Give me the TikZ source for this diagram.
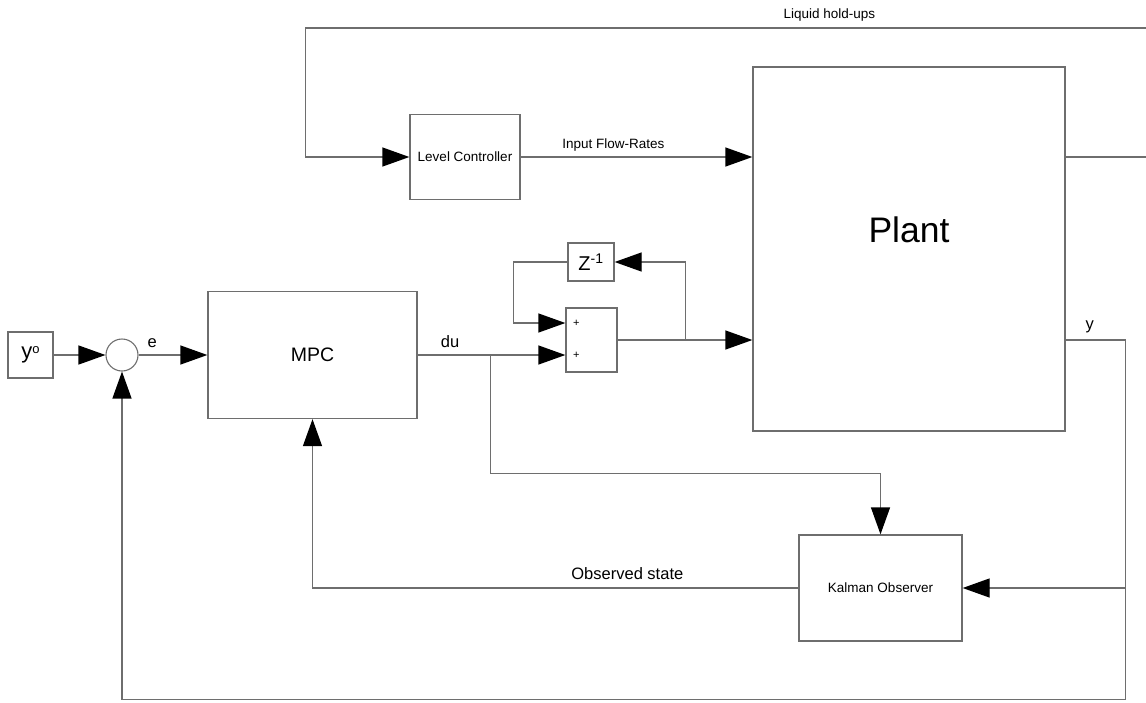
\documentclass[tikz,border=0pt]{standalone}
\usepackage{fontspec}
\setmainfont{Liberation Sans}
\usetikzlibrary{arrows.meta, positioning, calc}
\definecolor{wireGray}{HTML}{6E6E6E}

\begin{document}
\begin{tikzpicture}[x=1pt, y=-1pt,
    block/.style={draw=wireGray, line width=1.3pt, fill=white, inner sep=0pt},
    wire/.style={draw=wireGray, line width=1.3pt},
    sig/.style={wire, -{Triangle[length=27pt, width=19pt, color=black]}},
    lbl/.style={font=\fontsize{16.5}{18}\selectfont, inner sep=0pt},
    smalllbl/.style={font=\fontsize{13.5}{15}\selectfont, inner sep=0pt}]
  \useasboundingbox (0,0) rectangle (1146,702);

  \node[block, minimum width=45pt, minimum height=46pt, font=\fontsize{22}{24}\selectfont] (yref) at (30.5,355) {y\raisebox{5pt}{\fontsize{13}{13}\selectfont o}};
  \node[draw=wireGray, line width=1.1pt, circle, minimum size=32pt, inner sep=0pt] (sum) at (122,355) {};
  \node[block, minimum width=209pt, minimum height=127pt, font=\fontsize{19.5}{22}\selectfont] (mpc) at (312.5,355) {MPC};
  \node[block, minimum width=51pt, minimum height=64pt] (add) at (591.5,340) {};
  \foreach \dy [count=\i] in {-17,15} {
    \node[font=\fontsize{11}{12}\selectfont, inner sep=0pt] (plus\i) at ($(add.west)+(11,\dy)$) {+};
  }
  \node[block, minimum width=46pt, minimum height=38pt, font=\fontsize{20}{22}\selectfont] (zinv) at (591,262) {Z\textsuperscript{-1}};
  \node[block, minimum width=312pt, minimum height=364pt] (plant) at (909,249) {};
  \node[font=\fontsize{35.5}{40}\selectfont, inner sep=0pt] (plantname) at (909,230) {Plant};
  \node[block, minimum width=110pt, minimum height=85pt, font=\fontsize{13.5}{15}\selectfont] (lc) at (465,157) {Level Controller};
  \node[block, minimum width=163pt, minimum height=106pt, font=\fontsize{13.5}{15}\selectfont] (kal) at (880.5,588) {Kalman Observer};

  \coordinate (br) at ($(mpc.east)+(73,0)$);
  \coordinate (kt) at ($(kal.north)+(0,-61)$);
  \coordinate (fb) at ($(add.east)+(68,0)$);
  \coordinate (yout) at ($(plant.east |- add.east)+(60,0)$);
  \coordinate (bot) at ($(sum.south)+(0,328)$);
  \coordinate (hu) at ($(plant.east |- lc.east)+(85,0)$);
  \coordinate (tl) at ($(lc.west)+(-104,-129)$);

  \draw[sig] (yref) -- (sum);
  \draw[sig] (sum.east) -- node[lbl, above=7pt, pos=0.2] (elbl) {e} (sum.east -| mpc.west);
  \draw[sig] (mpc.east) -- node[lbl, above=7pt, pos=0.22] (dulbl) {du} (add.west |- plus2);
  \draw[sig] (br) |- (kt) -- (kal.north);
  \draw[sig] (add.east) -- (add.east -| plant.west);
  \draw[sig] (fb) |- (zinv.east);
  \draw[sig] (zinv.west) -- ++(-54,0) |- (add.west |- plus1);
  \draw[sig] (lc.east) -- node[smalllbl, above=5pt, pos=0.4] (flowlbl) {Input Flow-Rates} (lc.east -| plant.west);
  \draw[sig] (plant.east |- lc.east) -- (hu) |- node[smalllbl, above=6pt, pos=0.69] (holdlbl) {Liquid hold-ups} (tl) |- (lc.west);
  \draw[sig] (plant.east |- add.east) -- node[lbl, above=6pt, pos=0.4] (ylbl) {y} (yout) |- (bot) -- (sum.south);
  \draw[sig] (yout |- kal.east) -- (kal.east);
  \draw[sig] (kal.west) -| node[lbl, above=8pt, pos=0.176] (obslbl) {Observed state} (mpc.south);
\end{tikzpicture}
\end{document}
